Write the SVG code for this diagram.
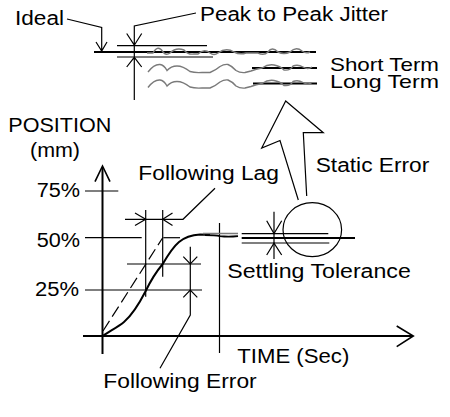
<svg xmlns="http://www.w3.org/2000/svg" width="450" height="417" viewBox="0 0 450 417">
<style>
text{font-family:"Liberation Sans",Arial,sans-serif;font-size:20px;fill:#000}
.s{font-size:18.5px}
.t{stroke:#000;stroke-width:1.2;fill:none}
.k{stroke:#000;stroke-width:2;fill:none}
.g{stroke:#7a7a7a;stroke-width:1.4;fill:none}
.d{stroke:#000;stroke-width:1.2;fill:none;stroke-dasharray:12 5}
</style>
<rect width="450" height="417" fill="#fff"/>
<g id="jitter">
<line class="k" x1="94" y1="52" x2="316" y2="52"/>
<line class="t" x1="117" y1="45.7" x2="207" y2="45.7"/>
<line class="t" x1="117" y1="57" x2="213" y2="57"/>
<line class="k" x1="252" y1="68" x2="317" y2="68"/>
<line class="k" x1="253" y1="83.5" x2="317" y2="83.5"/>
<path class="g" d="M147,53 L153,53 Q158,44 163,52 Q166,56 170,53 Q176,47 184,50 Q188,55 194,54 L198,54 Q204,48 210,53 Q214,56 218,53 Q226,47 234,52 Q240,55 246,53 L258,53 Q264,56 268,52 Q272,46 278,52 Q284,55 290,52 Q296,46 302,51 Q306,54 310,52"/>
<path id="wave" class="g" d="M148,72 Q154,64 160,64.5 Q164,65 167,70.5 Q171,66 177,66 Q183,66 190,71.5 Q195,73 202,72.5 L210,72.5 Q216,70 220,66.5 Q224,64 228,64.5 Q232,66 236,70.5 Q240,73 245,72.5 L251,71 Q256,69 262,68 Q268,64 274,65 Q280,66 284,70 Q290,71 293,66 Q298,64 303,67 Q308,70 312,67"/>
<use href="#wave" transform="translate(0,15.5)"/>
<path class="t" d="M67,19 L101.7,27.5 L101.7,51.5 M96,42 L101.7,51 L107,42"/>
<path class="t" d="M196,13 L134.3,26 L134.3,100 M126.7,33.5 L134.3,45.2 L141.7,33.5 M126.7,67 L134.3,57.3 L141.7,67"/>
</g>
<g id="labels">
<text x="15" y="25" textLength="49" lengthAdjust="spacingAndGlyphs">Ideal</text>
<text x="200" y="20.5" textLength="188" lengthAdjust="spacingAndGlyphs">Peak to Peak Jitter</text>
<text class="s" x="330" y="70.5" textLength="109" lengthAdjust="spacingAndGlyphs">Short Term</text>
<text class="s" x="330" y="87.5" textLength="109" lengthAdjust="spacingAndGlyphs">Long Term</text>
<text x="8.3" y="131.7" textLength="103" lengthAdjust="spacingAndGlyphs">POSITION</text>
<text x="30" y="157" textLength="50" lengthAdjust="spacingAndGlyphs">(mm)</text>
<text x="36.7" y="197" textLength="43.3" lengthAdjust="spacingAndGlyphs">75%</text>
<text x="36.7" y="246.7" textLength="43.3" lengthAdjust="spacingAndGlyphs">50%</text>
<text x="35" y="296" textLength="44" lengthAdjust="spacingAndGlyphs">25%</text>
<text x="138.3" y="180" textLength="140.7" lengthAdjust="spacingAndGlyphs">Following Lag</text>
<text x="315.7" y="172" textLength="113.6" lengthAdjust="spacingAndGlyphs">Static Error</text>
<text x="227.3" y="278" textLength="183.5" lengthAdjust="spacingAndGlyphs">Settling Tolerance</text>
<text x="237.3" y="363" textLength="112" lengthAdjust="spacingAndGlyphs">TIME (Sec)</text>
<text x="103.3" y="387.7" textLength="153.4" lengthAdjust="spacingAndGlyphs">Following Error</text>
</g>
<g id="axes">
<line class="k" x1="102.5" y1="167" x2="102.5" y2="354"/>
<path class="t" d="M95,181.7 L102.5,166 L110,181.7" style="stroke-width:1.6"/>
<line class="k" x1="83" y1="336" x2="412" y2="336"/>
<path class="t" d="M396.7,326 L413.3,336 L396.7,346.7" style="stroke-width:1.6"/>
<line class="t" x1="85" y1="191" x2="118.3" y2="191"/>
<line class="t" x1="85" y1="237.7" x2="141.7" y2="237.7"/>
<line class="t" x1="163.3" y1="237.7" x2="180" y2="237.7"/>
<line class="t" x1="85" y1="290" x2="202" y2="290"/>
<line class="t" x1="127" y1="264" x2="201" y2="264"/>
<line class="t" x1="219.5" y1="223" x2="219.5" y2="353"/>
</g>
<g id="motion">
<path class="d" d="M103,331 L162.7,237.7"/>
<path class="k" d="M102.7,336 C110,331 118,327 124,322 C131,316 138,306 145.7,291 C151,280 156,272 162.7,264 C168,255 173,247 179,242 C185,237 192,235 200,234.5 L210,234.8"/>
<path class="g" d="M203,233.5 L238,233.5"/>
<path d="M205,235.2 Q215,235.2 220,236.2 Q228,237.2 238,236.2" style="stroke:#000;stroke-width:1.8;fill:none"/>
</g>
<g id="following-lag">
<line class="t" x1="145.7" y1="210" x2="145.7" y2="296.7"/>
<line class="t" x1="162.7" y1="210" x2="162.7" y2="276.7"/>
<path class="t" d="M125,219.3 L183,219.3 L215,188.3"/>
<path class="t" d="M135,213 L145.7,219.3 L135,225.5 M172.5,213 L162.7,219.3 L172.5,225.5"/>
</g>
<g id="following-error">
<path class="t" d="M190.3,246.7 L190.3,315 L160,368.3"/>
<path class="t" d="M183.3,256.7 L190.3,264 L197.3,256.7 M183.3,297.3 L190.3,290 L197.3,297.3"/>
</g>
<g id="settling">
<line class="k" x1="241.7" y1="238" x2="355" y2="238"/>
<line class="t" x1="241.7" y1="233.7" x2="328.3" y2="233.7"/>
<line class="t" x1="241.7" y1="243" x2="329.3" y2="243"/>
<line class="t" x1="274" y1="211.7" x2="274" y2="259"/>
<path class="t" d="M266.7,220.7 L274,233.5 L281.7,220.7 M266.7,255 L274,243.2 L281.7,255"/>
</g>
<g id="static-error">
<ellipse cx="312.3" cy="229.7" rx="29.3" ry="27" class="t"/>
<path class="t" d="M298.3,200 L280,140.5 L261.7,148 L285.7,101 L323.3,132.7 L303.3,132.7 L306.7,196"/>
</g>
</svg>
